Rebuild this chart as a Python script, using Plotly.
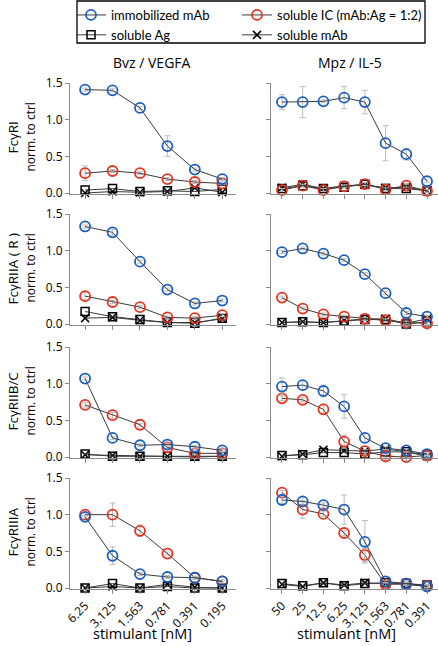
import plotly.graph_objects as go

W, H = 438, 646

# ---------------- data ----------------
x_bvz = ["6.25", "3.125", "1.563", "0.781", "0.391", "0.195"]
x_mpz = ["50", "25", "12.5", "6.25", "3.125", "1.563", "0.781", "0.391"]
col_titles = ["Bvz / VEGFA", "Mpz / IL-5"]
row_titles = ["FcγRI", "FcγRIIA ( R )", "FcγRIIB/C", "FcγRIIIA"]
y_ticks = [0.0, 0.5, 1.0, 1.5]
y_ticktext = ["0.0", "0.5", "1.0", "1.5"]
series_names = ["immobilized mAb", "soluble IC (mAb:Ag = 1:2)", "soluble Ag", "soluble mAb"]

# FcγRI
ri_bvz_imm = [1.41, 1.40, 1.16, 0.64, 0.32, 0.19]
ri_bvz_imm_err = [0.02, 0.02, 0.02, 0.14, 0.02, 0.02]
ri_bvz_ic = [0.27, 0.30, 0.27, 0.19, 0.15, 0.13]
ri_bvz_ic_err = [0.10, 0.02, 0.02, 0.02, 0.02, 0.02]
ri_bvz_ag = [0.04, 0.06, 0.02, 0.03, 0.02, 0.05]
ri_bvz_mab = [0.00, 0.02, 0.01, 0.02, 0.07, 0.01]
ri_mpz_imm = [1.24, 1.24, 1.25, 1.30, 1.24, 0.68, 0.53, 0.16]
ri_mpz_imm_err = [0.10, 0.21, 0.02, 0.15, 0.16, 0.24, 0.08, 0.02]
ri_mpz_ic = [0.04, 0.10, 0.04, 0.09, 0.12, 0.05, 0.10, 0.03]
ri_mpz_ic_err = [0.02] * 8
ri_mpz_ag = [0.06, 0.10, 0.06, 0.08, 0.12, 0.06, 0.06, 0.03]
ri_mpz_mab = [0.07, 0.12, 0.06, 0.10, 0.11, 0.07, 0.08, 0.03]

# FcγRIIA (R)
riia_bvz_imm = [1.33, 1.25, 0.85, 0.47, 0.28, 0.32]
riia_bvz_imm_err = [0.02, 0.04, 0.02, 0.02, 0.02, 0.02]
riia_bvz_ic = [0.38, 0.30, 0.23, 0.09, 0.08, 0.12]
riia_bvz_ic_err = [0.05, 0.02, 0.02, 0.02, 0.02, 0.02]
riia_bvz_ag = [0.17, 0.10, 0.06, 0.02, 0.01, 0.08]
riia_bvz_mab = [0.08, 0.09, 0.05, 0.02, 0.02, 0.07]
riia_mpz_imm = [0.98, 1.03, 0.96, 0.87, 0.68, 0.42, 0.15, 0.10]
riia_mpz_imm_err = [0.02] * 8
riia_mpz_ic = [0.36, 0.21, 0.13, 0.10, 0.07, 0.05, 0.02, 0.01]
riia_mpz_ic_err = [0.02] * 8
riia_mpz_ag = [0.02, 0.03, 0.02, 0.04, 0.06, 0.06, 0.00, 0.03]
riia_mpz_mab = [0.02, 0.03, 0.02, 0.05, 0.07, 0.07, 0.01, 0.07]

# FcγRIIB/C
riib_bvz_imm = [1.07, 0.26, 0.16, 0.17, 0.14, 0.09]
riib_bvz_imm_err = [0.02] * 6
riib_bvz_ic = [0.71, 0.57, 0.44, 0.13, 0.05, 0.05]
riib_bvz_ic_err = [0.03, 0.04, 0.02, 0.02, 0.02, 0.02]
riib_bvz_ag = [0.04, 0.01, 0.01, 0.01, 0.01, 0.01]
riib_bvz_mab = [0.03, 0.02, 0.01, 0.01, 0.00, 0.01]
riib_mpz_imm = [0.96, 0.98, 0.90, 0.69, 0.26, 0.12, 0.09, 0.04]
riib_mpz_imm_err = [0.12, 0.06, 0.08, 0.16, 0.06, 0.02, 0.02, 0.02]
riib_mpz_ic = [0.80, 0.78, 0.65, 0.21, 0.08, 0.01, 0.00, 0.02]
riib_mpz_ic_err = [0.03, 0.03, 0.07, 0.09, 0.02, 0.02, 0.02, 0.02]
riib_mpz_ag = [0.02, 0.03, 0.06, 0.06, 0.04, 0.07, 0.07, 0.03]
riib_mpz_mab = [0.01, 0.04, 0.10, 0.09, 0.08, 0.11, 0.07, 0.01]

# FcγRIIIA
riiia_bvz_imm = [0.97, 0.44, 0.19, 0.15, 0.14, 0.09]
riiia_bvz_imm_err = [0.02, 0.12, 0.02, 0.02, 0.02, 0.02]
riiia_bvz_ic = [1.00, 1.00, 0.78, 0.47, 0.14, 0.09]
riiia_bvz_ic_err = [0.02, 0.16, 0.08, 0.02, 0.02, 0.02]
riiia_bvz_ag = [0.00, 0.06, 0.00, 0.02, 0.00, 0.00]
riiia_bvz_mab = [0.00, 0.02, 0.00, 0.05, 0.01, 0.00]
riiia_mpz_imm = [1.20, 1.18, 1.13, 1.07, 0.63, 0.09, 0.06, 0.02]
riiia_mpz_imm_err = [0.05, 0.05, 0.03, 0.20, 0.29, 0.02, 0.02, 0.02]
riiia_mpz_ic = [1.30, 1.07, 1.01, 0.75, 0.45, 0.05, 0.06, 0.03]
riiia_mpz_ic_err = [0.03, 0.12, 0.03, 0.03, 0.09, 0.02, 0.02, 0.02]
riiia_mpz_ag = [0.06, 0.03, 0.07, 0.03, 0.06, 0.07, 0.06, 0.04]
riiia_mpz_mab = [0.05, 0.02, 0.07, 0.04, 0.07, 0.06, 0.05, 0.02]

panels = [
    [(ri_bvz_imm, ri_bvz_imm_err, ri_bvz_ic, ri_bvz_ic_err, ri_bvz_ag, ri_bvz_mab),
     (ri_mpz_imm, ri_mpz_imm_err, ri_mpz_ic, ri_mpz_ic_err, ri_mpz_ag, ri_mpz_mab)],
    [(riia_bvz_imm, riia_bvz_imm_err, riia_bvz_ic, riia_bvz_ic_err, riia_bvz_ag, riia_bvz_mab),
     (riia_mpz_imm, riia_mpz_imm_err, riia_mpz_ic, riia_mpz_ic_err, riia_mpz_ag, riia_mpz_mab)],
    [(riib_bvz_imm, riib_bvz_imm_err, riib_bvz_ic, riib_bvz_ic_err, riib_bvz_ag, riib_bvz_mab),
     (riib_mpz_imm, riib_mpz_imm_err, riib_mpz_ic, riib_mpz_ic_err, riib_mpz_ag, riib_mpz_mab)],
    [(riiia_bvz_imm, riiia_bvz_imm_err, riiia_bvz_ic, riiia_bvz_ic_err, riiia_bvz_ag, riiia_bvz_mab),
     (riiia_mpz_imm, riiia_mpz_imm_err, riiia_mpz_ic, riiia_mpz_ic_err, riiia_mpz_ag, riiia_mpz_mab)],
]
xcats = [x_bvz, x_mpz]

# ---------------- style / layout ----------------
FONT = "Open Sans"
LFONT = "Lato"
BLUE = "#1d5fbf"
RED = "#e8321e"
LINE = "#3a3a3a"
AX = "#8a8a8a"
ERR = "#bdbdbd"

def px_x(p):
    return p / W

def px_y(p):
    return 1 - p / H

col_px = [(70, 236), (271, 438)]
col_range = [[-0.55, 5.5], [-0.53, 7.53]]
row_px = [(83, 194.1), (214, 325.1), (347, 458.1), (478, 589.1)]
YR = [-0.015, 1.5]

fig = go.Figure()
layout = dict(
    template="none",
    width=W, height=H, autosize=False,
    margin=dict(l=0, r=0, t=0, b=0, pad=0),
    paper_bgcolor="white", plot_bgcolor="white",
    font=dict(family=FONT, size=12, color="black"),
    showlegend=True,
)

def add(xa, ya, x, y, err, name, symbol, color, size, lw, show, rank, leg):
    tr = dict(
        x=x, y=y, xaxis=xa, yaxis=ya, mode="lines+markers", name=name,
        legendgroup=name, showlegend=show, legendrank=rank, legend=leg, cliponaxis=False,
        line=dict(color=LINE, width=1),
        marker=dict(symbol=symbol, size=size, color=color, line=dict(width=lw, color=color)),
    )
    if err is not None:
        tr["error_y"] = dict(type="data", array=err, visible=True, color=ERR, thickness=1, width=3)
    fig.add_trace(go.Scatter(**tr))

for r in range(4):
    for c in range(2):
        k = r * 2 + c + 1
        xa = "x" if k == 1 else f"x{k}"
        ya = "y" if k == 1 else f"y{k}"
        imm, imm_e, ic, ic_e, ag, mab = panels[r][c]
        xs = xcats[c]
        show = (k == 1)
        add(xa, ya, xs, mab, None, series_names[3], "x-thin-open", "black", 8, 1.5, show, 2, "legend2")
        add(xa, ya, xs, ag, None, series_names[2], "square-open", "black", 8, 1.5, show, 2, "legend")
        add(xa, ya, xs, ic, ic_e, series_names[1], "circle-open", RED, 10, 1.8, show, 1, "legend2")
        add(xa, ya, xs, imm, imm_e, series_names[0], "circle-open", BLUE, 10, 1.8, show, 1, "legend")

        x0, x1 = col_px[c]
        t, b = row_px[r]
        xkey = "xaxis" if k == 1 else f"xaxis{k}"
        ykey = "yaxis" if k == 1 else f"yaxis{k}"
        layout[xkey] = dict(
            domain=[px_x(x0), min(1.0, px_x(x1))], anchor=ya, type="category",
            categoryorder="array", categoryarray=xs, automargin=False,
            range=col_range[c], showgrid=False, zeroline=False,
            showline=True, linecolor=AX, linewidth=1,
            ticks="outside", ticklen=4, tickcolor=AX, tickwidth=1,
            showticklabels=(r == 3), tickangle=-45,
            tickfont=dict(family=FONT, size=12, color="black"),
            fixedrange=True,
        )
        layout[ykey] = dict(
            domain=[px_y(b), px_y(t)], anchor=xa, range=YR, automargin=False,
            tickvals=y_ticks, ticktext=y_ticktext,
            showgrid=False, zeroline=False,
            showline=True, linecolor=AX, linewidth=1,
            ticks="outside", ticklen=4, tickcolor=AX, tickwidth=1,
            showticklabels=(c == 0),
            tickfont=dict(family=FONT, size=12, color="black"),
            fixedrange=True,
        )

ann = []
for c, cx in enumerate([152, 350]):
    ann.append(dict(x=px_x(cx), y=px_y(62), xref="paper", yref="paper", text=col_titles[c],
                    showarrow=False, xanchor="center", yanchor="middle",
                    font=dict(family=FONT, size=14, color="black")))
for r in range(4):
    t, b = row_px[r]
    cy = (t + b) / 2 - 1
    ann.append(dict(x=px_x(13), y=px_y(cy), xref="paper", yref="paper", text=row_titles[r],
                    showarrow=False, textangle=-90, xanchor="center", yanchor="middle",
                    font=dict(family=FONT, size=13.5, color="black")))
    ann.append(dict(x=px_x(31), y=px_y(cy), xref="paper", yref="paper", text="norm. to ctrl",
                    showarrow=False, textangle=-90, xanchor="center", yanchor="middle",
                    font=dict(family=FONT, size=12, color="black")))
for cx in [142, 346]:
    ann.append(dict(x=px_x(cx), y=px_y(633), xref="paper", yref="paper", text="stimulant [nM]",
                    showarrow=False, xanchor="center", yanchor="middle",
                    font=dict(family=FONT, size=14.5, color="black")))
layout["annotations"] = ann

# legend frame
layout["shapes"] = [dict(type="rect", xref="paper", yref="paper",
                         x0=px_x(77), x1=px_x(425), y0=px_y(43), y1=px_y(1),
                         line=dict(color="black", width=1.3), fillcolor="rgba(0,0,0,0)",
                         layer="above")]

legfont = dict(family=LFONT, size=13, color="black")
layout["legend"] = dict(
    orientation="v", x=px_x(71), y=px_y(0), xanchor="left", yanchor="top",
    xref="paper", yref="paper", borderwidth=0, bgcolor="rgba(0,0,0,0)",
    font=legfont, itemwidth=30, tracegroupgap=0, traceorder="normal",
)
layout["legend2"] = dict(
    orientation="v", x=px_x(237), y=px_y(0), xanchor="left", yanchor="top",
    xref="paper", yref="paper", borderwidth=0, bgcolor="rgba(0,0,0,0)",
    font=legfont, itemwidth=30, tracegroupgap=0, traceorder="normal",
)

fig.update_layout(**layout)
fig.write_html("out.html", config={"displayModeBar": False},
               post_script="document.body.style.margin='0';")
